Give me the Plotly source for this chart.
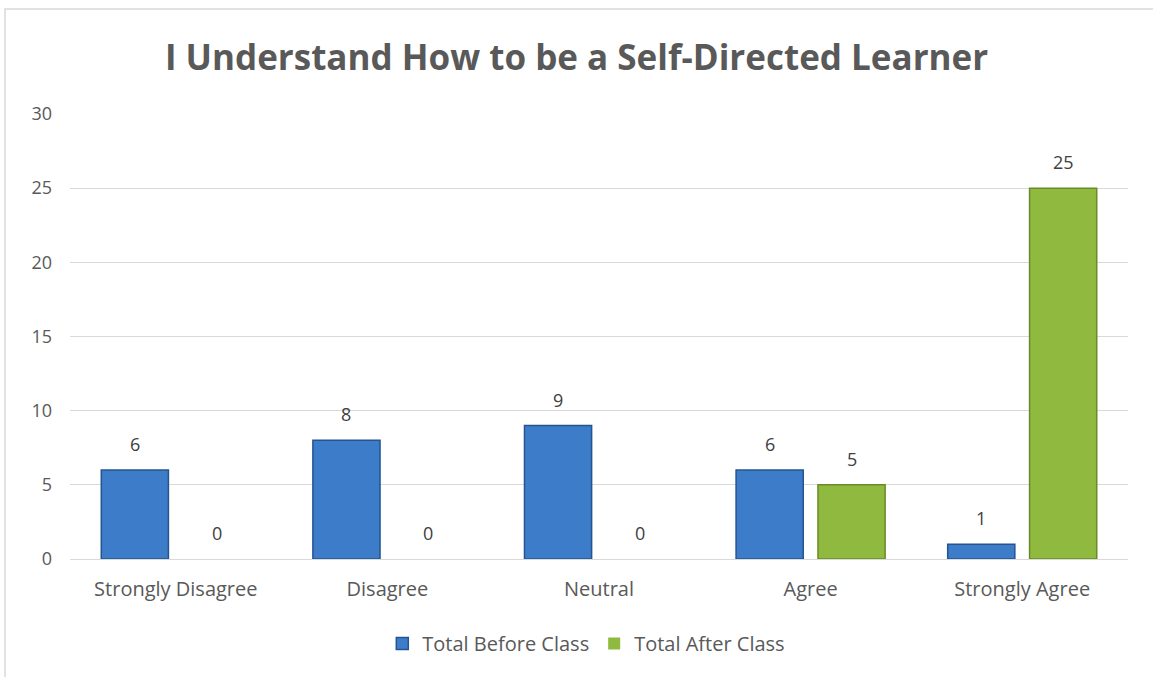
import plotly.graph_objects as go

categories = ["Strongly Disagree", "Disagree", "Neutral", "Agree", "Strongly Agree"]
before_vals = [6, 8, 9, 6, 1]
after_vals = [0, 0, 0, 5, 25]
series_names = ["Total Before Class", "Total After Class"]
title_text = "I Understand How to be a Self-Directed Learner"

FONT = "Open Sans"
fig = go.Figure()
fig.add_trace(go.Bar(
    x=categories, y=before_vals, name=series_names[0],
    marker=dict(color="#3d7cc9",
                line=dict(color="#24558f", width=[1.5 if v else 0 for v in before_vals])),
))
fig.add_trace(go.Bar(
    x=categories, y=after_vals, name=series_names[1],
    marker=dict(color="#90b93f",
                line=dict(color="#6a8a28", width=[1.5 if v else 0 for v in after_vals])),
))

for vals, shift in ((before_vals, -41), (after_vals, 41)):
    for c, v in zip(categories, vals):
        fig.add_annotation(x=c, y=v, text=str(v), showarrow=False, xshift=shift,
                           yanchor="bottom", yshift=12,
                           font=dict(size=18, color="#404040", family=FONT))

fig.update_layout(
    width=1153, height=677,
    margin=dict(l=70, r=25, t=114, b=118),
    paper_bgcolor="white", plot_bgcolor="white",
    font=dict(family=FONT, color="#595959"),
    title=dict(text="<b>" + title_text + "</b>", x=0.5, xanchor="center",
               y=1 - 58 / 677, yanchor="middle",
               font=dict(size=35, color="#595959", family=FONT)),
    barmode="group", bargap=0.226, bargroupgap=0.18,
    showlegend=True,
    legend=dict(orientation="h", x=0.488, xanchor="center", y=-0.19, yanchor="middle",
                font=dict(size=20, color="#595959", family=FONT),
                itemwidth=30, traceorder="normal"),
    xaxis=dict(showgrid=False, showline=True, linecolor="#d9d9d9", linewidth=1,
               tickfont=dict(size=20, color="#595959", family=FONT), ticks="",
               ticklabelstandoff=12),
    yaxis=dict(range=[0, 30], tickvals=[0, 5, 10, 15, 20, 25, 30], showgrid=True,
               gridcolor="#d9d9d9", gridwidth=1, zeroline=False, showline=False,
               tickfont=dict(size=18, color="#595959", family=FONT),
               ticklabelstandoff=17),
)

fig.add_shape(type="rect", xref="paper", yref="paper",
              x0=-65 / 1058, x1=1.1, y0=-0.5, y1=1 + 105 / 445,
              line=dict(color="#d9d9d9", width=1.5), layer="below")

fig.write_html("out.html", config={"displayModeBar": False},
               post_script="document.body.style.margin='0px';document.body.style.padding='0px';")
